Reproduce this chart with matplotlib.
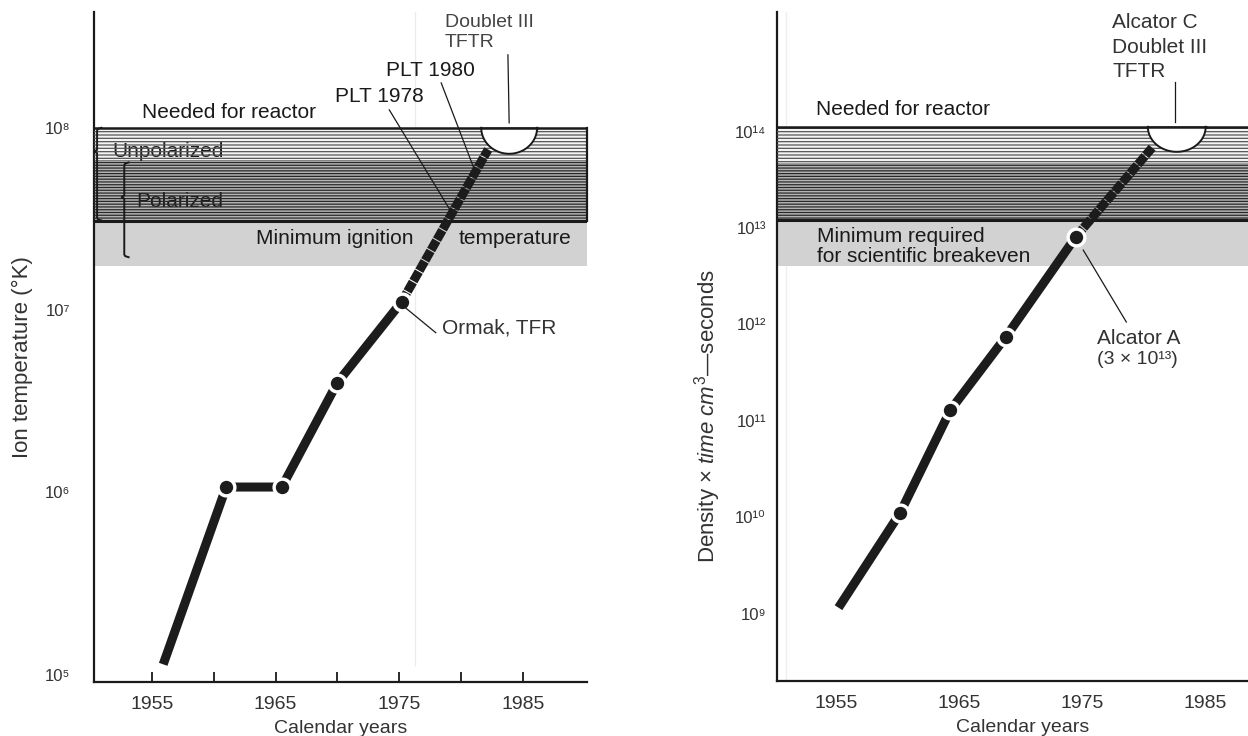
import numpy as np
import matplotlib
matplotlib.use("Agg")
import matplotlib.pyplot as plt
from matplotlib import transforms
from matplotlib.patches import Polygon

plt.rcParams['font.family'] = ['Liberation Sans', 'DejaVu Sans']
plt.rcParams['mathtext.fontset'] = 'custom'
plt.rcParams['mathtext.rm'] = 'Liberation Sans'
plt.rcParams['mathtext.it'] = 'Liberation Sans:italic'
plt.rcParams['hatch.linewidth'] = 0.9

# ---------------- data ----------------
temp_years = [1955.9, 1961.0, 1965.5, 1970.0, 1975.2, 1982.2]
temp_values = [1.14e5, 1.07e6, 1.07e6, 4.0e6, 1.11e7, 7.6e7]
temp_dot_idx = [1, 2, 3, 4]

nt_years = [1955.2, 1960.2, 1964.3, 1968.8, 1974.5, 1980.7]
nt_values = [1.15e9, 1.1e10, 1.29e11, 7.4e11, 8.1e12, 6.8e13]
nt_dot_idx = [1, 2, 3, 4]

# bands: reactor top, unpolarized/polarized split, hatched bottom, grey bottom
temp_band = [1.0e8, 6.67e7, 3.1e7, 1.75e7]
nt_band = [1.12e14, 4.7e13, 1.2e13, 4.0e12]

x_ticks = [1955, 1960, 1965, 1970, 1975, 1980, 1985]
x_ticklabels = ['1955', '', '1965', '', '1975', '', '1985']
temp_yticks = [1e5, 1e6, 1e7, 1e8]
temp_yticklabels = ['10⁵', '10⁶', '10⁷', '10⁸']
nt_yticks = [1e9, 1e10, 1e11, 1e12, 1e13, 1e14]
nt_yticklabels = ['10⁹', '10¹⁰', '10¹¹', '10¹²', '10¹³', '10¹⁴']

INK = '#1a1a1a'
FS = 15

fig = plt.figure(figsize=(12.48, 7.36), dpi=100)
axL = fig.add_axes([94/1248, 1-682/736, 493/1248, 670/736])
axR = fig.add_axes([777/1248, 1-681/736, 492/1248, 669/736])


def style_axes(ax, xlim, ylim, yticks, yticklabels, ypad, xtick_len):
    ax.set_yscale('log')
    ax.set_xlim(*xlim)
    ax.set_ylim(*ylim)
    for s in ['top', 'right']:
        ax.spines[s].set_visible(False)
    for s in ['left', 'bottom']:
        ax.spines[s].set_linewidth(1.6)
        ax.spines[s].set_color(INK)
    ax.set_xticks(x_ticks)
    ax.set_xticklabels(x_ticklabels)
    ax.set_yticks(yticks)
    ax.set_yticklabels(yticklabels)
    ax.yaxis.set_minor_locator(matplotlib.ticker.NullLocator())
    ax.tick_params(axis='x', direction='in', length=xtick_len, width=1.3,
                   color=INK, labelsize=14, pad=10, labelcolor='#333333')
    ax.tick_params(axis='y', length=0, labelsize=12, pad=ypad,
                   labelcolor='#333333')
    ax.set_xlabel('Calendar years', fontsize=14, color='#333333', labelpad=5)
    ax.patch.set_alpha(0)


def yfrac(ax, v):
    lo, hi = np.log10(ax.get_ylim())
    return (np.log10(v) - lo) / (hi - lo)


def draw_bands(ax, band, right_border):
    x0, x1 = ax.get_xlim()
    top, split, hb, gb = band
    ax.fill_between([x0, x1], gb, hb, color='#d2d2d2', lw=0, zorder=1)
    ax.fill_between([x0, x1], split, top, color='#f4f4f4', lw=0, zorder=1)
    ax.fill_between([x0, x1], hb, split, color='#b4b4b4', lw=0, zorder=1)
    ax.fill_between([x0, x1], split, top, facecolor='none', edgecolor='#555555',
                    hatch='-----', lw=0, zorder=3)
    ax.fill_between([x0, x1], hb, split, facecolor='none', edgecolor='#2a2a2a',
                    hatch='------', lw=0, zorder=3)
    ax.axhline(top, color=INK, lw=1.8, zorder=4)
    ax.axhline(hb, color=INK, lw=2.2, zorder=4)
    if right_border:
        ax.plot([x1, x1], [hb, top], color=INK, lw=1.6, zorder=4, clip_on=False)


def draw_curve(ax, years, values, dots, dash_from):
    kw = dict(color='#1c1c1c', lw=6.5, solid_capstyle='butt', zorder=5)
    ax.plot(years[:dash_from + 1], values[:dash_from + 1], **kw)
    ax.plot(years[dash_from:], values[dash_from:], dashes=(1.2, 0.12),
            dash_capstyle='butt', **kw)
    dx = [years[i] for i in dots]
    dy = [values[i] for i in dots]
    ax.plot(dx, dy, 'o', ms=14.5, color='white', mec='none', zorder=6)
    ax.plot(dx, dy, 'o', ms=9.6, color='#1c1c1c', mec='none', zorder=7)


def semicircle(ax, cx, hw, yv, depth_px):
    trans = transforms.blended_transform_factory(ax.transData, ax.transAxes)
    h = ax.get_position().height * fig.get_figheight() * fig.dpi
    y0 = yfrac(ax, yv)
    d = depth_px / h
    th = np.linspace(np.pi, 2 * np.pi, 80)
    xs = cx + hw * np.cos(th)
    ys = y0 + d * np.sin(th)
    poly = Polygon(np.column_stack([xs, ys]), closed=True, facecolor='white',
                   edgecolor='none', transform=trans, zorder=8)
    ax.add_patch(poly)
    ax.plot(xs, ys, color=INK, lw=1.4, transform=trans, zorder=9)
    ax.plot([xs[0], xs[-1]], [y0, y0], color=INK, lw=1.8, transform=trans, zorder=9)


def leader(ax, p0, p1):
    ax.plot([p0[0], p1[0]], [10**p0[1], 10**p1[1]], color=INK, lw=0.9,
            zorder=10, clip_on=False)


def brace(ax, x, ytop, ybot, ymid, w):
    # decorative curly bracket (x in data units, y in data values)
    lt, lb, lm = np.log10(ytop), np.log10(ybot), np.log10(ymid)
    e = 0.015
    xs = [x + w, x + w * 0.2, x, x, x - w * 0.6, x, x, x + w * 0.2, x + w]
    ls = [lt, lt - e * 0.4, lt - e, lm + e * 0.6, lm, lm - e * 0.6, lb + e,
          lb + e * 0.4, lb]
    ax.plot(xs, [10**v for v in ls], color=INK, lw=1.4, zorder=10, clip_on=False)


# ---------------- left panel ----------------
style_axes(axL, (1950.3, 1990.2), (10**4.96, 10**8.635), temp_yticks,
           temp_yticklabels, 17, 7)
fig.text(22/1248, 1-357/736, 'Ion temperature (°K)', fontsize=16,
         color='#333333', rotation=90, ha='center', va='center')
draw_bands(axL, temp_band, True)
draw_curve(axL, temp_years, temp_values, temp_dot_idx, 4)
semicircle(axL, 1983.9, 2.26, temp_band[0], 26)
axL.axvline(1976.3, ymin=0.025, color='#ececec', lw=1.0, zorder=0)

axL.text(1954.2, 10**8.082, 'Needed for reactor', fontsize=FS, color=INK,
         va='center', zorder=11)
axL.text(1978.7, 10**8.58, 'Doublet III', fontsize=FS - 1, color='#444444',
         va='center', zorder=11)
axL.text(1978.7, 10**8.465, 'TFTR', fontsize=FS - 1, color='#444444',
         va='center', zorder=11)
leader(axL, (1983.8, 8.40), (1983.9, 8.027))
axL.text(1973.9, 10**8.312, 'PLT 1980', fontsize=FS, color=INK,
         va='center', zorder=11)
leader(axL, (1978.4, 8.246), (1981.0, 7.786))
axL.text(1969.8, 10**8.169, 'PLT 1978', fontsize=FS, color=INK,
         va='center', zorder=11)
leader(axL, (1974.2, 8.098), (1979.25, 7.534))
leader(axL, (1975.5, 7.013), (1977.96, 6.876))
axL.text(1978.45, 10**6.903, 'Ormak, TFR', fontsize=FS, color='#333333',
         va='center', zorder=11)
axL.text(1951.8, 10**7.868, 'Unpolarized', fontsize=FS, color=INK,
         va='center', zorder=2)
axL.text(1953.7, 10**7.594, 'Polarized', fontsize=FS, color=INK,
         va='center', zorder=2)
axL.text(1963.4, 10**7.391, 'Minimum ignition', fontsize=FS, color=INK,
         va='center', zorder=11)
axL.text(1979.8, 10**7.391, 'temperature', fontsize=FS, color=INK,
         va='center', zorder=11)
brace(axL, 1950.55, temp_band[0], temp_band[2], 10**7.87, 0.35)
brace(axL, 1952.75, 10**7.81, 10**7.29, 10**7.62, 0.35)

# ---------------- right panel ----------------
style_axes(axR, (1950.2, 1990.2), (10**8.30, 10**15.24), nt_yticks,
           nt_yticklabels, 8, 0)
fig.text(708/1248, 1-416/736, 'Density × $\\mathit{time\\ cm}^{3}$—seconds',
         fontsize=16, color='#333333', rotation=90, ha='center', va='center')
draw_bands(axR, nt_band, False)
draw_curve(axR, nt_years, nt_values, nt_dot_idx, 4)
semicircle(axR, 1982.7, 2.35, nt_band[0], 25)
axR.axvline(1950.95, color='#efefef', lw=1.0, zorder=0)

axR.text(1953.4, 10**14.226, 'Needed for reactor', fontsize=FS, color=INK,
         va='center', zorder=11)
for txt, ly in [('Alcator C', 15.13), ('Doublet III', 14.87), ('TFTR', 14.62)]:
    axR.text(1977.44, 10**ly, txt, fontsize=FS, color='#333333', va='center',
             zorder=11)
leader(axR, (1982.56, 14.517), (1982.56, 14.10))
axR.text(1953.45, 10**12.907, 'Minimum required', fontsize=FS, color=INK,
         va='center', zorder=11)
axR.text(1953.45, 10**12.70, 'for scientific breakeven', fontsize=FS,
         color=INK, va='center', zorder=11)
axR.text(1976.2, 10**11.858, 'Alcator A', fontsize=FS, color='#333333',
         va='center', zorder=11)
axR.text(1976.2, 10**11.63, '(3 × 10¹³)', fontsize=FS - 1, color='#333333',
         va='center', zorder=11)
leader(axR, (1975.1, 12.77), (1978.6, 12.024))

fig.savefig('out.png', dpi=100)
